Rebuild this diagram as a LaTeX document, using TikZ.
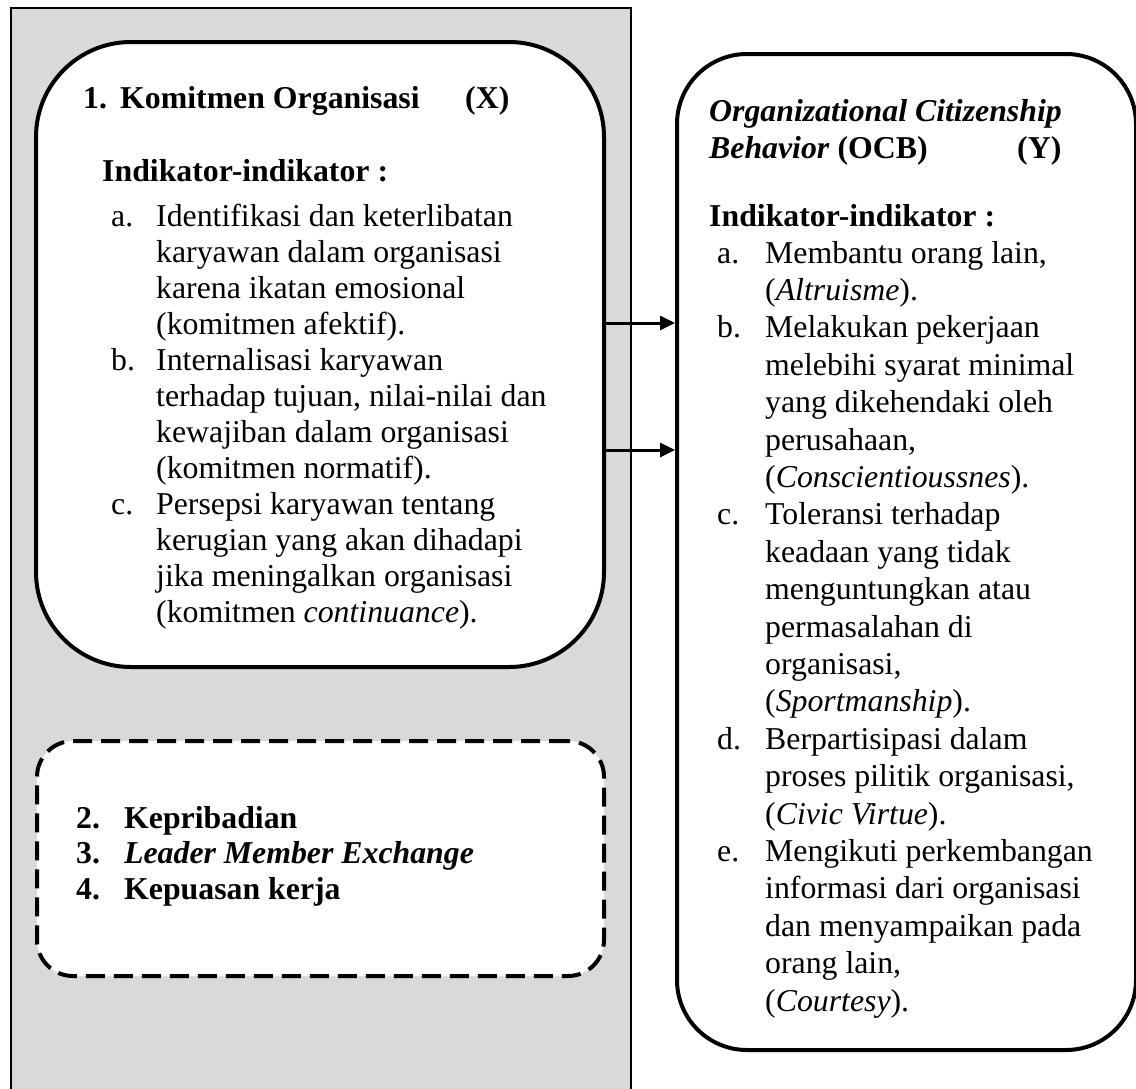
\documentclass[tikz,border=0pt]{standalone}
\usepackage{fontspec}
\setmainfont{Liberation Serif}
\usetikzlibrary{arrows.meta}
\definecolor{panelgray}{HTML}{D9D9D9}
\tikzset{
  panel/.style={draw=black, line width=1.5pt, fill=panelgray, rectangle, inner sep=0pt},
  bigbox/.style={draw=black, line width=4pt, fill=white, rectangle, inner sep=0pt, rounded corners=95pt},
  ocbbox/.style={draw=black, line width=4pt, fill=white, rectangle, inner sep=0pt, rounded corners=70pt},
  dashbox/.style={draw=black, line width=4pt, fill=white, rectangle, inner sep=0pt, rounded corners=36pt, dash pattern=on 19pt off 9pt},
  txt/.style={inner sep=0pt, anchor=base west, font=\fontsize{31.8}{36}\selectfont},
  rtxt/.style={inner sep=0pt, anchor=base west, font=\fontsize{31.8}{37.4}\selectfont},
  dtxt/.style={inner sep=0pt, anchor=base west, font=\fontsize{31.8}{35.5}\selectfont},
  link/.style={line width=3pt, -{Triangle[length=15pt,width=14pt]}},
}
\begin{document}
\begin{tikzpicture}[x=1pt,y=-1pt]
\useasboundingbox (0,0) rectangle (1136,1088);
% grey panel
\node[panel, anchor=north west, minimum width=620pt, minimum height=1100pt] (panel) at (10,7) {};
% boxes
\node[bigbox, anchor=north west, minimum width=568pt, minimum height=625pt] (leftbox) at (34,40) {};
\node[dashbox, anchor=north west, minimum width=567pt, minimum height=235pt] (dbox) at (35,739) {};
\node[ocbbox, anchor=north west, minimum width=459pt, minimum height=996pt] (rightbox) at (675,52) {};
% arrows
\coordinate (a1) at (0,323);
\coordinate (a2) at (0,450);
\draw[link] (leftbox.east |- a1) -- (rightbox.west |- a1);
\draw[link] (leftbox.east |- a2) -- (rightbox.west |- a2);
% left box text
\node[txt] (ln) at (83,108) {\bfseries 1.};
\node[txt] (lt) at (120,108) {\bfseries Komitmen Organisasi};
\node[txt] (lx) at (465,108) {\bfseries (X)};
\node[txt] (li) at (102,181) {\bfseries Indikator-indikator :};
\node[txt] (litems) at (111,226) {\begin{tabular}[t]{@{}l@{}l@{}}
\makebox[45pt][l]{a.} & Identifikasi dan keterlibatan\\
 & karyawan dalam organisasi\\
 & karena ikatan emosional\\
 & (komitmen afektif).\\
\makebox[45pt][l]{b.} & Internalisasi karyawan\\
 & terhadap tujuan, nilai-nilai dan\\
 & kewajiban dalam organisasi\\
 & (komitmen normatif).\\
\makebox[45pt][l]{c.} & Persepsi karyawan tentang\\
 & kerugian yang akan dihadapi\\
 & jika meningalkan organisasi\\
 & (komitmen \textit{continuance}).
\end{tabular}};
% dashed box text
\node[dtxt] (ditems) at (76,828) {\bfseries\begin{tabular}[t]{@{}l@{}l@{}}
\makebox[48pt][l]{2.} & Kepribadian\\
\makebox[48pt][l]{3.} & \textit{Leader Member Exchange}\\
\makebox[48pt][l]{4.} & Kepuasan kerja
\end{tabular}};
% right box text
\node[rtxt] (r1) at (709,121) {\bfseries\itshape Organizational Citizenship};
\node[rtxt] (r2) at (709,158) {\textbf{\textit{Behavior}} \textbf{(OCB)}};
\node[rtxt] (ry) at (1017,158) {\bfseries (Y)};
\node[rtxt] (ri) at (709,226) {\bfseries Indikator-indikator :};
\node[rtxt] (ritems) at (717,263) {\begin{tabular}[t]{@{}l@{}l@{}}
\makebox[48pt][l]{a.} & Membantu orang lain,\\
 & (\textit{Altruisme}).\\
\makebox[48pt][l]{b.} & Melakukan pekerjaan\\
 & melebihi syarat minimal\\
 & yang dikehendaki oleh\\
 & perusahaan,\\
 & (\textit{Conscientioussnes}).\\
\makebox[48pt][l]{c.} & Toleransi terhadap\\
 & keadaan yang tidak\\
 & menguntungkan atau\\
 & permasalahan di\\
 & organisasi,\\
 & (\textit{Sportmanship}).\\
\makebox[48pt][l]{d.} & Berpartisipasi dalam\\
 & proses pilitik organisasi,\\
 & (\textit{Civic Virtue}).\\
\makebox[48pt][l]{e.} & Mengikuti perkembangan\\
 & informasi dari organisasi\\
 & dan menyampaikan pada\\
 & orang lain,\\
 & (\textit{Courtesy}).
\end{tabular}};
\end{tikzpicture}
\end{document}
